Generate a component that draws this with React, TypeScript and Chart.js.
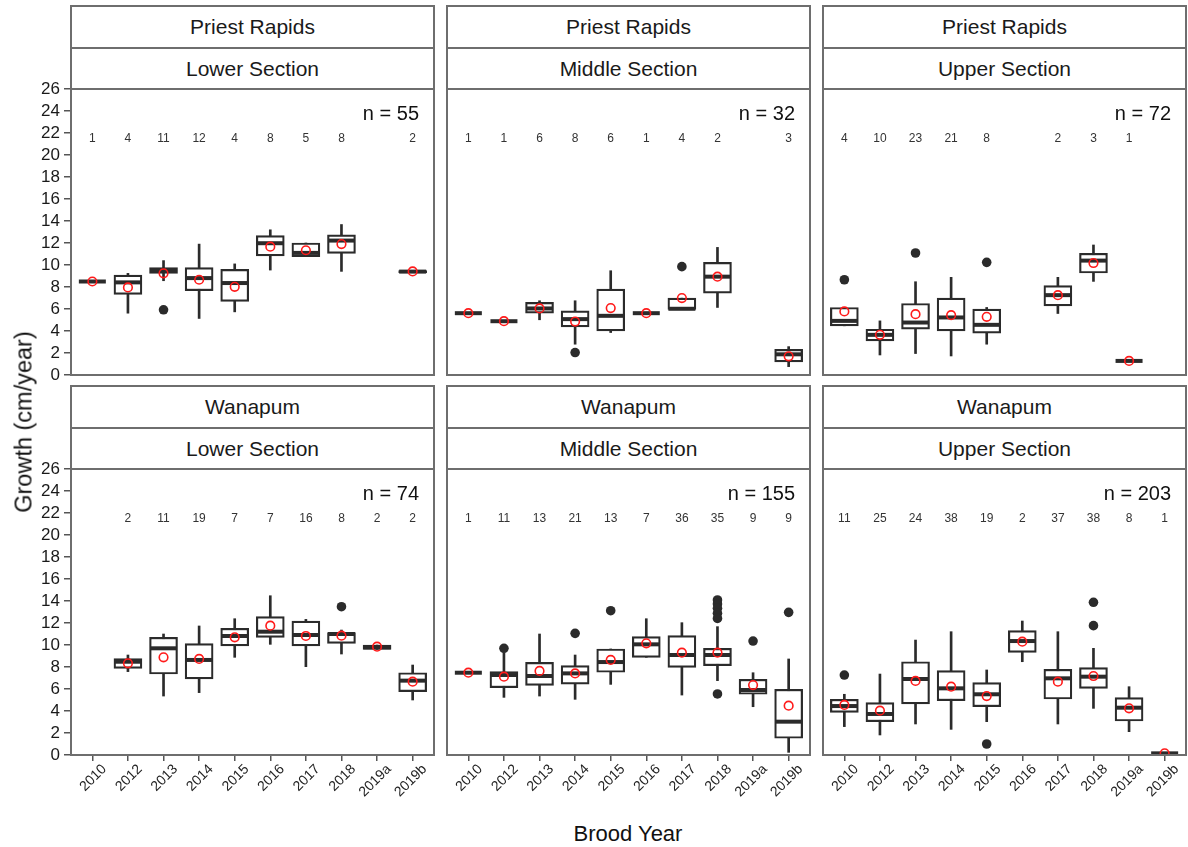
import React, { useEffect, useRef } from "react";
import { Chart, registerables } from "chart.js";
Chart.register(...registerables);

const FONT = '"Liberation Sans", Arial, Helvetica, sans-serif';

const categories = ["2010", "2012", "2013", "2014", "2015", "2016", "2017", "2018", "2019a", "2019b"];
const yTicksMax = 26;

// ---------- Priest Rapids – Lower Section ----------
const prLowerQ1 = [8.5, 7.33, 9.24, 7.66, 6.69, 10.82, 10.76, 11.06, null, 9.3];
const prLowerMed = [8.5, 8.42, 9.48, 8.81, 8.36, 11.98, 11.1, 12.22, null, 9.4];
const prLowerQ3 = [8.5, 9.09, 9.76, 9.76, 9.6, 12.67, 12.0, 12.74, null, 9.5];
const prLowerLo = [8.5, 5.62, 8.57, 5.14, 5.74, 9.54, 10.76, 9.42, null, 9.3];
const prLowerHi = [8.5, 9.24, 10.4, 11.9, 10.1, 13.2, 12.0, 13.68, null, 9.5];
const prLowerMean = [8.5, 7.96, 9.24, 8.66, 8.02, 11.67, 11.34, 11.9, null, 9.42];
const prLowerCounts = ["1", "4", "11", "12", "4", "8", "5", "8", "", "2"];
const prLowerOutliers = [{ x: 2, y: 5.93 }];
const prLowerN = 55;

// ---------- Priest Rapids – Middle Section ----------
const prMiddleQ1 = [5.62, 4.89, 5.62, 4.38, 4.01, 5.62, 5.96, 7.45, null, 1.19];
const prMiddleMed = [5.62, 4.89, 6.05, 5.08, 5.38, 5.62, 6.02, 8.94, null, 1.88];
const prMiddleQ3 = [5.62, 4.89, 6.6, 5.84, 7.81, 5.62, 6.99, 10.24, null, 2.34];
const prMiddleLo = [5.62, 4.89, 5.02, 2.8, 3.86, 5.62, 5.96, 6.14, null, 0.76];
const prMiddleHi = [5.62, 4.89, 6.75, 6.75, 9.48, 5.62, 6.99, 11.6, null, 2.58];
const prMiddleMean = [5.62, 4.89, 6.05, 4.86, 6.08, 5.62, 6.99, 8.94, null, 1.7];
const prMiddleCounts = ["1", "1", "6", "8", "6", "1", "4", "2", "", "3"];
const prMiddleOutliers = [{ x: 3, y: 2.04 }, { x: 6, y: 9.85 }];
const prMiddleN = 32;

// ---------- Priest Rapids – Upper Section ----------
const prUpperQ1 = [4.47, 3.1, 4.16, 4.01, 3.8, null, 6.29, 9.27, 1.28, null];
const prUpperMed = [4.92, 3.65, 4.77, 5.23, 4.56, null, 7.26, 10.4, 1.28, null];
const prUpperQ3 = [6.14, 4.16, 6.5, 6.99, 5.99, null, 8.12, 11.06, 1.28, null];
const prUpperLo = [4.47, 1.82, 1.95, 1.73, 2.8, null, 5.59, 8.51, 1.28, null];
const prUpperHi = [6.14, 4.92, 8.48, 8.88, 6.14, null, 8.88, 11.82, 1.28, null];
const prUpperMean = [5.78, 3.65, 5.53, 5.44, 5.29, null, 7.26, 10.18, 1.28, null];
const prUpperCounts = ["4", "10", "23", "21", "8", "", "2", "3", "1", ""];
const prUpperOutliers = [{ x: 0, y: 8.66 }, { x: 2, y: 11.09 }, { x: 4, y: 10.24 }];
const prUpperN = 72;

// ---------- Wanapum – Lower Section ----------
const waLowerQ1 = [null, 7.88, 7.36, 6.91, 9.91, 10.7, 9.91, 10.15, 9.6, 5.76];
const waLowerMed = [null, 8.48, 9.7, 8.64, 10.82, 11.21, 10.91, 11.0, 9.79, 6.76];
const waLowerQ3 = [null, 8.76, 10.7, 10.12, 11.52, 12.58, 12.18, 11.12, 10.0, 7.48];
const waLowerLo = [null, 7.58, 5.36, 5.67, 8.88, 10.06, 8.03, 9.18, 9.6, 5.0];
const waLowerHi = [null, 9.09, 11.0, 11.73, 12.39, 14.48, 12.33, 11.36, 10.0, 8.18];
const waLowerMean = [null, 8.33, 8.88, 8.73, 10.7, 11.76, 10.82, 10.85, 9.85, 6.67];
const waLowerCounts = ["", "2", "11", "19", "7", "7", "16", "8", "2", "2"];
const waLowerOutliers = [{ x: 7, y: 13.48 }];
const waLowerN = 74;

// ---------- Wanapum – Middle Section ----------
const waMiddleQ1 = [7.48, 6.12, 6.33, 6.45, 7.52, 8.88, 7.97, 8.12, 5.52, 1.52];
const waMiddleMed = [7.48, 7.27, 7.18, 7.42, 8.45, 10.06, 9.09, 9.09, 5.91, 3.03];
const waMiddleQ3 = [7.48, 7.58, 8.42, 8.12, 9.64, 10.76, 10.85, 9.7, 6.88, 5.97];
const waMiddleLo = [7.48, 5.24, 5.36, 5.06, 6.42, 8.88, 5.45, 6.76, 4.39, 0.24];
const waMiddleHi = [7.48, 9.3, 11.0, 9.09, 9.64, 12.39, 12.03, 11.67, 7.48, 8.73];
const waMiddleMean = [7.48, 7.12, 7.64, 7.42, 8.64, 10.15, 9.3, 9.3, 6.36, 4.48];
const waMiddleCounts = ["1", "11", "13", "21", "13", "7", "36", "35", "9", "9"];
const waMiddleOutliers = [
  { x: 1, y: 9.7 }, { x: 3, y: 11.06 }, { x: 4, y: 13.12 },
  { x: 7, y: 14.09 }, { x: 7, y: 13.73 }, { x: 7, y: 13.33 }, { x: 7, y: 12.88 }, { x: 7, y: 12.42 }, { x: 7, y: 5.55 },
  { x: 8, y: 10.36 }, { x: 9, y: 12.97 },
];
const waMiddleN = 155;

// ---------- Wanapum – Upper Section ----------
const waUpperQ1 = [3.88, 3.03, 4.64, 4.94, 4.39, 9.33, 5.09, 6.06, 3.09, 0.15];
const waUpperMed = [4.45, 3.73, 6.91, 6.06, 5.52, 10.36, 6.97, 7.12, 4.3, 0.15];
const waUpperQ3 = [5.06, 4.76, 8.48, 7.67, 6.58, 11.3, 7.79, 7.94, 5.21, 0.15];
const waUpperLo = [2.58, 1.82, 2.82, 2.33, 3.03, 8.48, 2.82, 4.24, 2.12, 0.15];
const waUpperHi = [5.52, 7.36, 10.45, 11.21, 7.73, 12.18, 11.21, 9.7, 6.21, 0.15];
const waUpperMean = [4.55, 4.03, 6.73, 6.21, 5.36, 10.3, 6.67, 7.18, 4.24, 0.15];
const waUpperCounts = ["11", "25", "24", "38", "19", "2", "37", "38", "8", "1"];
const waUpperOutliers = [{ x: 0, y: 7.27 }, { x: 4, y: 1.0 }, { x: 7, y: 13.88 }, { x: 7, y: 11.76 }];
const waUpperN = 203;

type Num = number | null;
type PanelDef = {
  row: number; col: number; dam: string; section: string;
  q1: Num[]; med: Num[]; q3: Num[]; lo: Num[]; hi: Num[]; mean: Num[];
  counts: string[]; outliers: { x: number; y: number }[]; n: number;
};

const panels: PanelDef[] = [
  { row: 0, col: 0, dam: "Priest Rapids", section: "Lower Section", q1: prLowerQ1, med: prLowerMed, q3: prLowerQ3, lo: prLowerLo, hi: prLowerHi, mean: prLowerMean, counts: prLowerCounts, outliers: prLowerOutliers, n: prLowerN },
  { row: 0, col: 1, dam: "Priest Rapids", section: "Middle Section", q1: prMiddleQ1, med: prMiddleMed, q3: prMiddleQ3, lo: prMiddleLo, hi: prMiddleHi, mean: prMiddleMean, counts: prMiddleCounts, outliers: prMiddleOutliers, n: prMiddleN },
  { row: 0, col: 2, dam: "Priest Rapids", section: "Upper Section", q1: prUpperQ1, med: prUpperMed, q3: prUpperQ3, lo: prUpperLo, hi: prUpperHi, mean: prUpperMean, counts: prUpperCounts, outliers: prUpperOutliers, n: prUpperN },
  { row: 1, col: 0, dam: "Wanapum", section: "Lower Section", q1: waLowerQ1, med: waLowerMed, q3: waLowerQ3, lo: waLowerLo, hi: waLowerHi, mean: waLowerMean, counts: waLowerCounts, outliers: waLowerOutliers, n: waLowerN },
  { row: 1, col: 1, dam: "Wanapum", section: "Middle Section", q1: waMiddleQ1, med: waMiddleMed, q3: waMiddleQ3, lo: waMiddleLo, hi: waMiddleHi, mean: waMiddleMean, counts: waMiddleCounts, outliers: waMiddleOutliers, n: waMiddleN },
  { row: 1, col: 2, dam: "Wanapum", section: "Upper Section", q1: waUpperQ1, med: waUpperMed, q3: waUpperQ3, lo: waUpperLo, hi: waUpperHi, mean: waUpperMean, counts: waUpperCounts, outliers: waUpperOutliers, n: waUpperN },
];

// layout geometry
const PLOT_LEFT = [71, 447, 823];
const PLOT_W = 363;
const PLOT_TOP = [89, 469];
const PLOT_H = 286;
const STRIP_H = 83;
const YAXIS_W = 71;
const PAD_T = 12;
const PAD_L_INNER = 40;
const PAD_R = 8;
const XAXIS_H = 62;
const LINE = "#6e6e6e";
const INK = "#2b2b2b";

const panelDeco = {
  id: "panelDeco",
  afterDatasetsDraw(chart: any, _args: any, opts: any) {
    const { ctx, chartArea, scales } = chart;
    const x = scales.x;
    const y = scales.y;
    ctx.save();
    ctx.font = `12px ${FONT}`;
    ctx.fillStyle = "#333";
    ctx.textAlign = "center";
    ctx.textBaseline = "middle";
    (opts.counts as string[]).forEach((c, i) => {
      if (c) ctx.fillText(c, x.getPixelForValue(i), y.getPixelForValue(21.45));
    });
    ctx.font = `20px ${FONT}`;
    ctx.fillStyle = "#111";
    ctx.textAlign = "right";
    ctx.fillText(`n = ${opts.n}`, chartArea.right - 15, y.getPixelForValue(23.7));
    ctx.strokeStyle = LINE;
    ctx.lineWidth = 2;
    ctx.strokeRect(chartArea.left, chartArea.top, chartArea.right - chartArea.left, chartArea.bottom - chartArea.top);
    ctx.restore();
  },
};

function Panel({ p }: { p: PanelDef }) {
  const ref = useRef<HTMLCanvasElement>(null);
  const isLeft = p.col === 0;
  const isBottom = p.row === 1;
  const padL = isLeft ? 0 : PAD_L_INNER;
  const canvasLeft = isLeft ? 0 : PLOT_LEFT[p.col] - PAD_L_INNER;
  const canvasW = (isLeft ? YAXIS_W : PAD_L_INNER) + PLOT_W + PAD_R;
  const padB = isBottom ? 0 : 12;
  const canvasTop = PLOT_TOP[p.row] - PAD_T;
  const canvasH = PAD_T + PLOT_H + (isBottom ? XAXIS_H : padB);

  useEffect(() => {
    const idx = categories.map((_, i) => i);
    const pts = (arr: Num[]) => idx.filter((i) => arr[i] != null).map((i) => ({ x: i, y: arr[i] as number }));
    const rng = (a: Num[], b: Num[]) => idx.filter((i) => a[i] != null).map((i) => ({ x: i, y: [a[i] as number, b[i] as number] }));

    const chart = new Chart(ref.current as HTMLCanvasElement, {
      type: "bar",
      data: {
        datasets: [
          {
            type: "scatter", data: pts(p.mean), order: 0, pointStyle: "circle",
            pointRadius: 4.3, pointHoverRadius: 4.3, pointBorderWidth: 1.6,
            pointBorderColor: "#ff1a1a", pointBackgroundColor: "rgba(0,0,0,0)",
          } as any,
          {
            type: "scatter", data: p.outliers, order: 1, pointStyle: "circle",
            pointRadius: 4.8, pointHoverRadius: 4.8, pointBorderWidth: 0,
            pointBorderColor: INK, pointBackgroundColor: INK,
          } as any,
          {
            type: "scatter", data: pts(p.med), order: 2, pointStyle: "line",
            pointRadius: 13.5, pointHoverRadius: 13.5, pointBorderWidth: 4,
            pointBorderColor: INK, pointBackgroundColor: INK,
          } as any,
          {
            type: "bar", data: rng(p.q1, p.q3), order: 3, grouped: false,
            backgroundColor: "#ffffff", borderColor: INK, borderWidth: 2.2, borderSkipped: false,
            barThickness: 28,
          } as any,
          {
            type: "bar", data: rng(p.lo, p.hi), order: 4, grouped: false,
            backgroundColor: INK, borderWidth: 0, barThickness: 2,
          } as any,
        ],
      },
      options: {
        responsive: false,
        animation: false,
        events: [],
        layout: { autoPadding: false, padding: { left: padL, right: PAD_R, top: PAD_T, bottom: padB } },
        plugins: {
          legend: { display: false },
          tooltip: { enabled: false },
          panelDeco: { counts: p.counts, n: p.n },
        } as any,
        scales: {
          x: {
            type: "linear", min: -0.6, max: 9.6, offset: false, display: isBottom,
            afterBuildTicks: (s: any) => { s.ticks = categories.map((_, i) => ({ value: i })); },
            afterFit: (s: any) => {
              s.height = isBottom ? XAXIS_H : 0;
              s.paddingLeft = 0; s.paddingRight = 0; s.paddingTop = 0; s.paddingBottom = 0;
            },
            grid: { offset: false, drawOnChartArea: false, drawTicks: true, tickLength: 6, color: "#555", lineWidth: 1.5 },
            border: { display: false },
            ticks: {
              autoSkip: false, minRotation: 45, maxRotation: 45, labelOffset: 12, padding: 0,
              color: "#222", font: { family: FONT, size: 14 },
              callback: (v: any) => categories[Math.round(Number(v))],
            },
          } as any,
          y: {
            type: "linear", min: 0, max: yTicksMax, display: isLeft,
            afterFit: (s: any) => {
              s.width = isLeft ? YAXIS_W : 0;
              s.paddingTop = 0; s.paddingBottom = 0; s.paddingLeft = 0; s.paddingRight = 0;
            },
            grid: { drawOnChartArea: false, drawTicks: true, tickLength: 7, color: "#555", lineWidth: 1.5 },
            border: { display: false },
            ticks: { stepSize: 2, autoSkip: false, color: "#1a1a1a", font: { family: FONT, size: 17 }, padding: 4 },
          } as any,
        },
      },
      plugins: [panelDeco as any],
    });
    return () => chart.destroy();
  }, []);

  return (
    <>
      <div
        style={{
          position: "absolute", left: PLOT_LEFT[p.col] - 1, top: PLOT_TOP[p.row] - STRIP_H - 1,
          width: PLOT_W + 2, height: STRIP_H + 2, boxSizing: "border-box",
          border: `2px solid ${LINE}`, background: "#fff",
        }}
      >
        <div style={{ height: 40, borderBottom: `2px solid ${LINE}`, display: "flex", alignItems: "center", justifyContent: "center", fontSize: 21, color: "#1a1a1a" }}>
          {p.dam}
        </div>
        <div style={{ height: 39, display: "flex", alignItems: "center", justifyContent: "center", fontSize: 21, color: "#1a1a1a" }}>
          {p.section}
        </div>
      </div>
      <canvas
        ref={ref}
        width={canvasW}
        height={canvasH}
        style={{ position: "absolute", left: canvasLeft, top: canvasTop, width: canvasW, height: canvasH }}
      />
    </>
  );
}

export default function App() {
  return (
    <div style={{ position: "absolute", left: 0, top: 0, width: 1188, height: 847, background: "#fff", fontFamily: FONT, overflow: "hidden" }}>
      {panels.map((p, i) => (
        <Panel key={i} p={p} />
      ))}
      <div
        style={{
          position: "absolute", left: 24, top: 422, transform: "translate(-50%, -50%) rotate(-90deg)",
          fontSize: 23.5, whiteSpace: "nowrap", color: "#111",
        }}
      >
        Growth (cm/year)
      </div>
      <div
        style={{
          position: "absolute", left: 628, top: 834, transform: "translate(-50%, -50%)",
          fontSize: 22, whiteSpace: "nowrap", color: "#111",
        }}
      >
        Brood Year
      </div>
    </div>
  );
}
